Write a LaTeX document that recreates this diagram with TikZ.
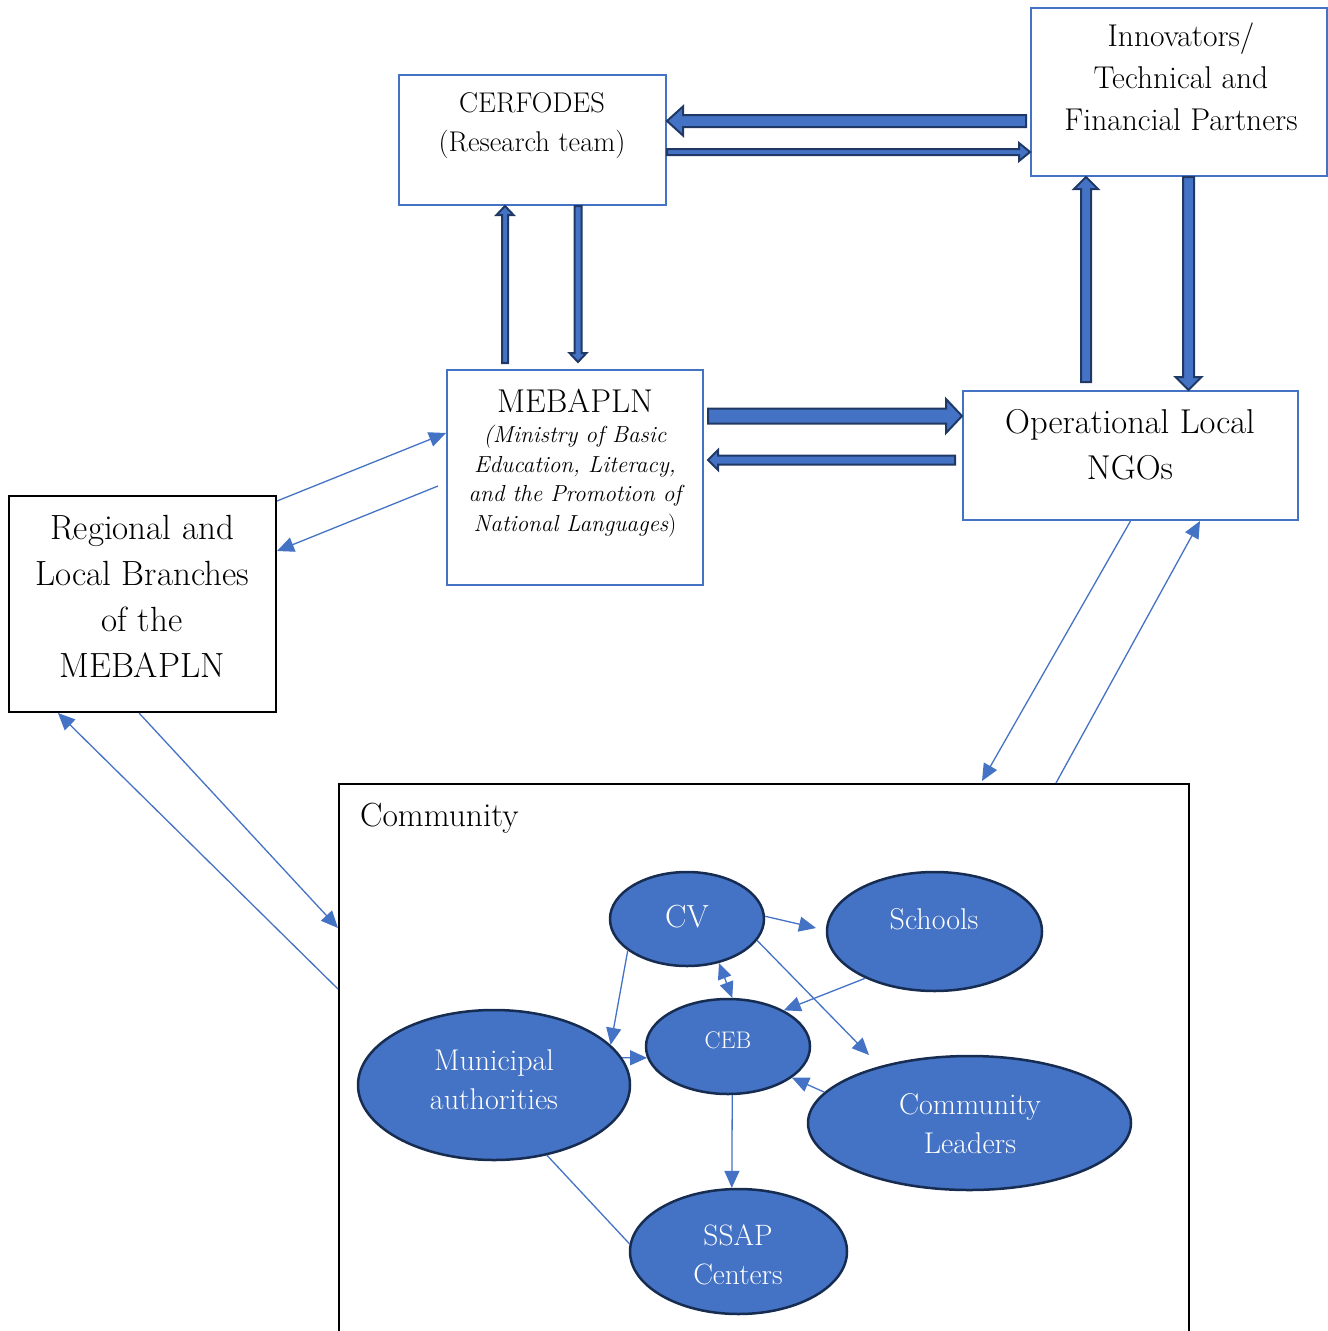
\documentclass[tikz,border=0pt]{standalone}
\usepackage{fontspec}
\usetikzlibrary{arrows.meta,calc,shapes.geometric}
\definecolor{wblue}{HTML}{4472C4}
\definecolor{navy}{HTML}{1F3864}
\definecolor{enavy}{HTML}{172C51}
\newcommand\fs[2]{\fontsize{#1}{#2}\selectfont}
\tikzset{
 bluebox/.style={draw=wblue,line width=2pt,rectangle,inner sep=0pt},
 blackbox/.style={draw=black,line width=2pt,rectangle,inner sep=0pt},
 ell/.style={ellipse,fill=wblue,draw=enavy,line width=2.5pt,inner sep=0pt},
 thinarr/.style={draw=wblue,line width=1.3pt,-{Triangle[length=17pt,width=15pt]}},
 twoarr/.style={draw=wblue,line width=1.3pt,{Triangle[length=16pt,width=14pt]}-{Triangle[length=16pt,width=14pt]}},
 plainlink/.style={draw=wblue,line width=1.3pt},
 blockarrow/.style={fill=wblue,draw=navy,line width=2pt,line join=miter},
 txt/.style={inner sep=0pt,align=center},
 wtxt/.style={inner sep=0pt,align=center,text=white}
}
% #1 start, #2 tip, #3 shaft half width, #4 head half width, #5 head length
\newcommand\blockarr[5]{%
 \coordinate (ba-s) at #1; \coordinate (ba-e) at #2;
 \coordinate (ba-h) at ($(ba-e)!#5!(ba-s)$);
 \draw[blockarrow] ($(ba-s)!#3!90:(ba-e)$) -- ($(ba-h)!#3!90:(ba-e)$) -- ($(ba-h)!#4!90:(ba-e)$) -- (ba-e) -- ($(ba-h)!#4!-90:(ba-e)$) -- ($(ba-h)!#3!-90:(ba-e)$) -- ($(ba-s)!#3!-90:(ba-e)$) -- cycle;}
\begin{document}
\begin{tikzpicture}[x=1pt,y=-1pt]
\useasboundingbox (0,0) rectangle (1328,1331);
\clip (0,0) rectangle (1328,1331);
% boxes
\node[bluebox,minimum width=267pt,minimum height=130pt] (cer) at (532.5,140) {};
\node[bluebox,minimum width=296pt,minimum height=168pt] (inn) at (1179,92) {};
\node[bluebox,minimum width=256pt,minimum height=215pt] (meb) at (575,477.5) {};
\node[bluebox,minimum width=335pt,minimum height=129pt] (ngo) at (1130.5,455.5) {};
\node[blackbox,minimum width=267pt,minimum height=216pt] (reg) at (142.5,604) {};
\node[blackbox,minimum width=850pt,minimum height=561pt] (com) at (764,1064.5) {};
% box texts
\node[txt,font=\fs{28.5}{39}] (cert) at (532,126) {CERFODES\\(Research team)};
\node[txt,font=\fs{31.5}{42}] (innt) at (1181,77) {Innovators/\\Technical and\\Financial Partners};
\node[txt,font=\fs{33}{40}] (mebt) at (575,401) {MEBAPLN};
\node[txt,font=\fs{23.2}{29.5}\itshape] (mebs) at (575,481) {(Ministry of Basic\\Education, Literacy,\\and the Promotion of\\National Languages\upshape)};
\node[txt,font=\fs{34.5}{46}] (ngot) at (1130,445) {Operational Local\\NGOs};
\node[txt,font=\fs{35}{46}] (regt) at (142,596) {Regional and\\Local Branches\\of the\\MEBAPLN};
\node[txt,font=\fs{33.5}{40},anchor=west] (comt) at (360,818) {Community};
% block arrows
\blockarr{($(inn.west |- 0,121)+(-4,0)$)}{(cer.east |- 0,121)}{6pt}{14.5pt}{16pt}
\blockarr{(cer.east |- 0,152)}{(inn.west |- 0,152)}{3pt}{9pt}{11pt}
\blockarr{($(meb.north -| 505,0)+(0,-6)$)}{(cer.south -| 505,0)}{3pt}{8.5pt}{9pt}
\blockarr{(cer.south -| 578,0)}{($(meb.north -| 578,0)+(0,-7)$)}{3.5pt}{8.5pt}{9pt}
\blockarr{($(meb.east |- 0,416)+(4,0)$)}{(ngo.west |- 0,416)}{7.5pt}{17pt}{16pt}
\blockarr{($(ngo.west |- 0,460)+(-7,0)$)}{($(meb.east |- 0,460)+(4,0)$)}{4.5pt}{10pt}{10pt}
\blockarr{($(ngo.north -| 1086,0)+(0,-8)$)}{(inn.south -| 1086,0)}{5pt}{12pt}{12pt}
\blockarr{(inn.south -| 1188.5,0)}{(ngo.north -| 1188.5,0)}{5.5pt}{13pt}{13pt}
% thin arrows between boxes
\draw[thinarr] (reg.east |- 0,501) -- (meb.west |- 0,433);
\draw[thinarr] ($(meb.west |- 0,486)+(-8,0)$) -- (reg.east |- 0,551);
\draw[thinarr] (reg.south -| 139,0) -- (com.west |- 0,928);
\draw[thinarr] (com.west |- 0,989) -- (reg.south -| 58,0);
\draw[thinarr] (ngo.south) -- ($(com.north -| 982,0)+(0,-2)$);
\draw[thinarr] (com.north -| 1056,0) -- (ngo.south -| 1200,0);
% ellipses
\node[ell,minimum width=154pt,minimum height=94pt] (cv) at (687,919) {};
\node[ell,minimum width=215pt,minimum height=119pt] (sch) at (934.5,931.5) {};
\node[ell,minimum width=164pt,minimum height=95pt] (ceb) at (728,1046.5) {};
\node[ell,minimum width=272pt,minimum height=150pt] (mun) at (494,1085) {};
\node[ell,minimum width=323pt,minimum height=134pt] (lead) at (969.5,1123) {};
\node[ell,minimum width=217pt,minimum height=125pt] (ssap) at (738.5,1251.5) {};
\node[wtxt,font=\fs{32}{40}] (cvt) at (687,917) {CV};
\node[wtxt,font=\fs{30}{39}] (scht) at (934,919) {Schools};
\node[wtxt,font=\fs{24}{39}] (cebt) at (728,1040) {CEB};
\node[wtxt,font=\fs{30}{39}] (munt) at (494,1080) {Municipal\\authorities};
\node[wtxt,font=\fs{30}{39}] (leadt) at (970,1124) {Community\\Leaders};
\node[wtxt,font=\fs{29.5}{39}] (ssapt) at (738,1255) {SSAP\\Centers};
% community arrows
\coordinate (schin) at (816,928);
\coordinate (leadin) at (869,1055);
\draw[thinarr] (cv.2) -- (schin);
\draw[thinarr] (cv.208) -- (mun.19);
\draw[twoarr] (cv.-54) -- (ceb.85);
\draw[thinarr] (sch.214) -- (ceb.33);
\draw[thinarr] (cv.-17) -- (leadin);
\draw[thinarr] (mun.12) -- (ceb.188);
\draw[thinarr] (lead.168) -- (ceb.-26);
\draw[thinarr] (ceb.-85) -- (ssap.96);
\draw[plainlink] (mun.-53.5) -- (ssap.176);
\end{tikzpicture}
\end{document}
